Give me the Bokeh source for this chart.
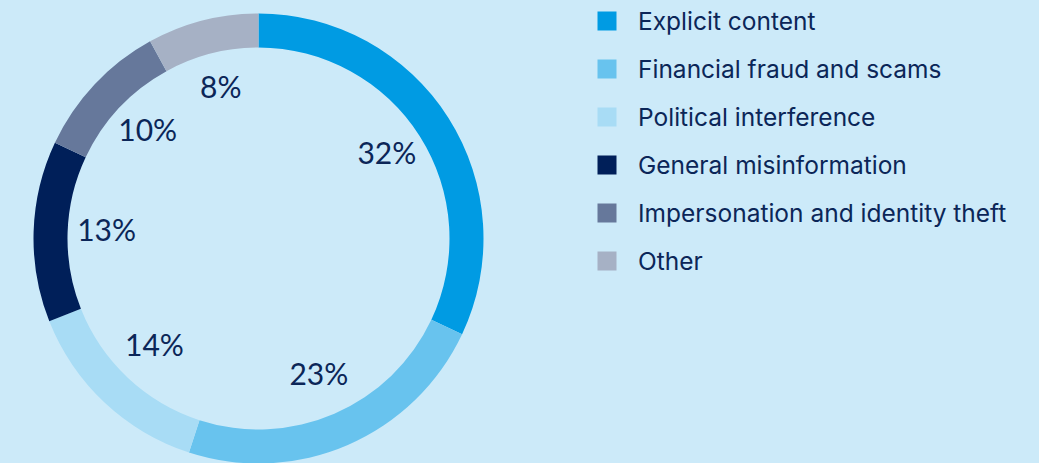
import math
from bokeh.plotting import figure
from bokeh.models import Range1d, ColumnDataSource
from bokeh.core.properties import value
from bokeh.embed import file_html
from bokeh.resources import INLINE

categories = ["Explicit content", "Financial fraud and scams", "Political interference",
              "General misinformation", "Impersonation and identity theft", "Other"]
shares = [32, 23, 14, 13, 10, 8]
colors = ["#009be3", "#68c3ee", "#a8dcf5", "#001f59", "#66789b", "#a6b1c5"]
labels = [f"{v}%" for v in shares]

BG = "#cceaf9"
TXT = "#0b2658"

W, H = 1039, 463
cx, cy = 258, H - 238
r_out, r_in, r_lab = 225, 191, 152

total = sum(shares)
starts, ends, lx, ly = [], [], [], []
cum = 0.0
for v in shares:
    a0 = cum / total * 2 * math.pi
    cum += v
    a1 = cum / total * 2 * math.pi
    starts.append(math.pi / 2 - a1)
    ends.append(math.pi / 2 - a0)
    am = (a0 + a1) / 2
    lx.append(cx + r_lab * math.sin(am))
    ly.append(cy + r_lab * math.cos(am))

src = ColumnDataSource(dict(start=starts, end=ends, color=colors, lx=lx, ly=ly, label=labels))

p = figure(width=W, height=H, output_backend="svg", toolbar_location=None,
           x_range=Range1d(0, W), y_range=Range1d(0, H), min_border=0,
           background_fill_color=BG, border_fill_color=BG, outline_line_color=None)
p.axis.visible = False
p.grid.visible = False

p.annular_wedge(x=cx, y=cy, inner_radius=r_in, outer_radius=r_out,
                start_angle="start", end_angle="end", color="color",
                line_color=None, source=src)

p.text(x="lx", y="ly", text="label", source=src, text_font=value("Lato"),
       text_font_size="30px", text_color=TXT, text_align="center", text_baseline="middle",
       y_offset=-5)

# legend
lg_x, lg_y0, lg_step = 606.5, H - 20.5, 48
leg_y = [lg_y0 - lg_step * i for i in range(len(categories))]
leg = ColumnDataSource(dict(x=[lg_x] * len(categories), y=leg_y, color=colors,
                            tx=[lg_x + 31] * len(categories), name=categories))
p.scatter(x="x", y="y", marker="square", size=19, color="color", line_color=None, source=leg)
p.text(x="tx", y="y", text="name", source=leg, text_font=value("Inter"),
       text_font_size="24.5px", text_color=TXT, text_align="left", text_baseline="middle")

html = file_html(p, INLINE)
style = f"<style>html,body{{margin:0;padding:0;background:{BG};overflow:hidden;}}</style>"
html = html.replace("</head>", style + "</head>", 1)
open("out.html", "w").write(html)
